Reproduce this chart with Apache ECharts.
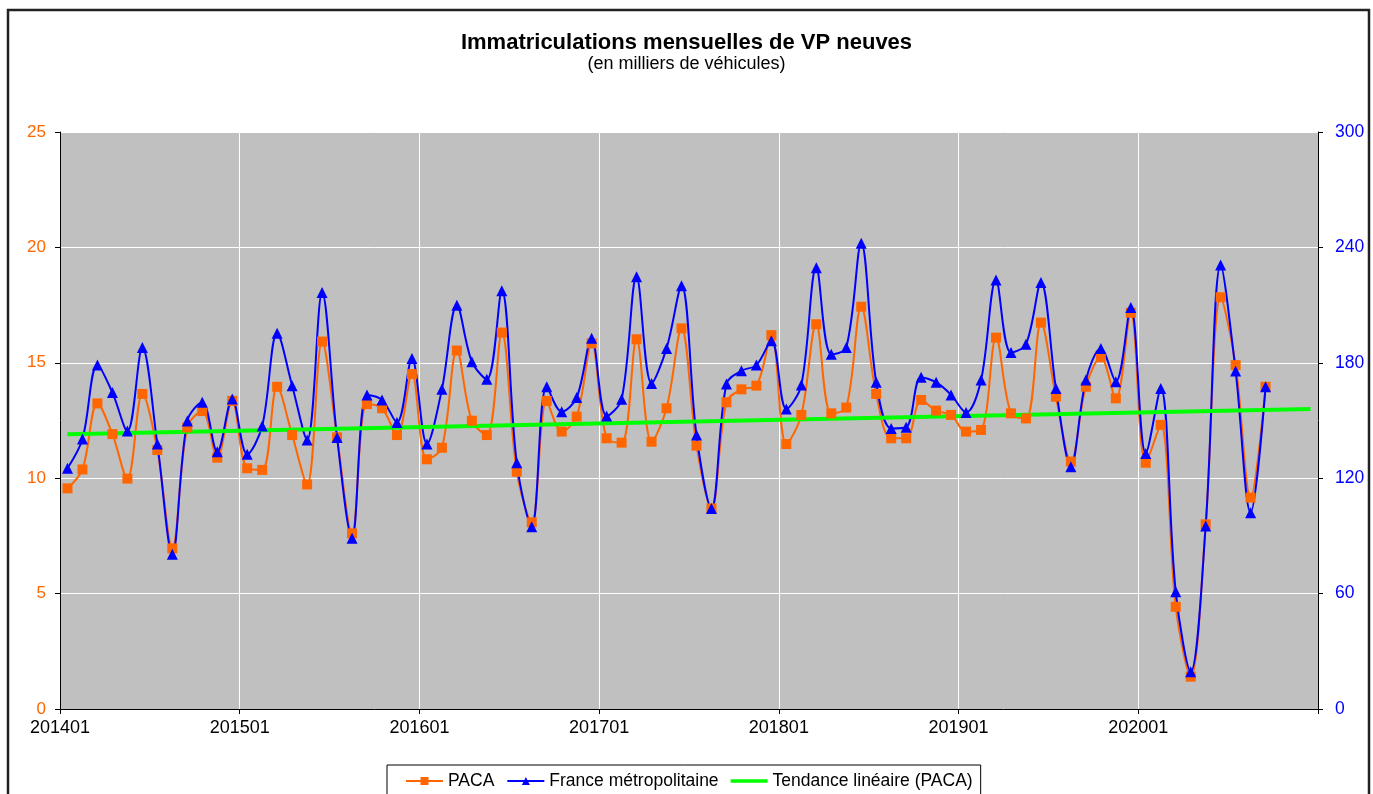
<!DOCTYPE html>
<html><head><meta charset="utf-8">
<script src="https://cdn.jsdelivr.net/npm/echarts@6/dist/echarts.min.js"></script>
<style>html,body{margin:0;padding:0;background:#fff}#c{width:1373px;height:794px}</style>
</head><body><div id="c"></div>
<script>
// Month labels (201401 .. 202009)
const months = [];
for (let y = 2014; y <= 2020; y++) {
  for (let m = 1; m <= 12; m++) {
    if (y === 2020 && m > 9) break;
    months.push(String(y) + (m < 10 ? '0' + m : String(m)));
  }
}
const xTickLabels = ['201401','201501','201601','201701','201801','201901','202001'];
const leftTicks = [0, 5, 10, 15, 20, 25];
const rightTicks = [0, 60, 120, 180, 240, 300];

// PACA (milliers) - left axis
const paca = [
  9.56,10.38,13.24,11.91,9.98,13.65,11.22,6.96,12.2,12.91,10.89,13.35,
  10.43,10.36,13.96,11.87,9.73,15.92,11.77,7.61,13.21,13.03,11.87,14.51,
  10.82,11.32,15.53,12.49,11.87,16.31,10.28,8.09,13.35,12.02,12.67,15.84,
  11.73,11.54,16.02,11.58,13.03,16.49,11.41,8.69,13.29,13.85,14.01,16.20,
  11.48,12.74,16.67,12.81,13.06,17.43,13.65,11.73,11.73,13.39,12.93,12.74,
  12.02,12.09,16.09,12.81,12.59,16.74,13.53,10.72,13.96,15.24,13.46,17.17,
  10.67,12.31,4.43,1.40,8.00,17.84,14.90,9.16,13.96
];
// France métropolitaine (milliers) - right axis
const france = [
  125.2,140.4,178.9,164.5,144.5,187.9,137.8,80.4,149.7,159.5,133.8,161.2,
  132.4,147.1,195.3,168.1,139.9,216.5,141.2,88.8,163.3,160.7,149.0,182.3,
  137.8,166.2,209.9,180.6,171.4,217.5,128.0,94.8,167.6,154.6,161.9,192.7,
  152.3,161.0,224.8,169.3,187.5,220.1,142.5,104.3,169.0,175.9,178.8,191.5,
  156.0,168.5,229.4,184.4,187.9,242.1,169.9,145.9,146.5,172.5,169.9,163.3,
  154.2,171.0,223.0,185.3,189.6,221.8,166.7,126.0,171.0,187.5,170.2,208.8,
  132.9,166.7,61.0,19.4,95.2,230.9,175.7,102.1,167.6
];
// Linear trend (PACA) endpoints
const trendMonths = ['201401', '202012'];
const trendValues = [11.90, 13.00];

function monthPos(label) {
  const y = parseInt(label.slice(0, 4), 10), m = parseInt(label.slice(4), 10);
  return (y - 2014) * 12 + (m - 1) + 0.5;
}
const pacaData = months.map((mo, i) => [monthPos(mo), paca[i]]);
const franceData = months.map((mo, i) => [monthPos(mo), france[i]]);
const trendData = trendMonths.map((mo, i) => [monthPos(mo), trendValues[i]]);

const FONT = "'Liberation Sans', Arial, sans-serif";
const ORANGE = '#FF6600', BLUE = '#0000FF', GREEN = '#00FF00';

const chart = echarts.init(document.getElementById('c'), null, {renderer: 'canvas'});
chart.setOption({
  animation: false,
  backgroundColor: '#fff',
  textStyle: {fontFamily: FONT},
  graphic: [{
    type: 'rect', z: 100,
    shape: {x: 8, y: 10, width: 1361, height: 800},
    style: {fill: 'none', stroke: '#222', lineWidth: 2.5}
  }],
  title: [{
    text: 'Immatriculations mensuelles de VP neuves',
    left: 'center', top: 27,
    textStyle: {fontFamily: FONT, fontSize: 22, fontWeight: 'bold', color: '#000'}
  }, {
    text: '(en milliers de véhicules)',
    left: 'center', top: 50,
    textStyle: {fontFamily: FONT, fontSize: 18, fontWeight: 'normal', color: '#000'}
  }],
  legend: {
    top: 765, left: 387,
    padding: [7, 8, 10, 18],
    borderColor: '#000', borderWidth: 1,
    itemWidth: 37, itemHeight: 10, itemGap: 12,
    textStyle: {fontFamily: FONT, fontSize: 17.5, color: '#000'},
    data: ['PACA', 'France métropolitaine',
      {name: 'Tendance linéaire (PACA)', icon: 'path://M0,0 L40,0 L40,4 L0,4 Z'}]
  },
  grid: {
    left: 60, right: 55, top: 132, bottom: 85,
    show: true, backgroundColor: '#C0C0C0', borderWidth: 0
  },
  xAxis: {
    type: 'value', min: 0, max: 84, interval: 12,
    axisLine: {show: true, lineStyle: {color: '#000', width: 1}},
    axisTick: {show: true, length: 5, lineStyle: {color: '#000'}},
    axisLabel: {
      color: '#000', fontSize: 18, fontFamily: FONT, margin: 10,
      formatter: v => (v % 12 === 0 && xTickLabels[v / 12]) ? xTickLabels[v / 12] : ''
    },
    splitLine: {show: true, lineStyle: {color: '#fff', width: 1}}
  },
  yAxis: [{
    type: 'value', min: leftTicks[0], max: leftTicks[leftTicks.length - 1], interval: 5,
    position: 'left',
    axisLine: {show: true, lineStyle: {color: '#000'}},
    axisTick: {show: true, length: 5, lineStyle: {color: '#000'}},
    axisLabel: {color: ORANGE, fontSize: 17, fontFamily: FONT, margin: 14},
    splitLine: {show: true, lineStyle: {color: '#fff', width: 1}}
  }, {
    type: 'value', min: rightTicks[0], max: rightTicks[rightTicks.length - 1], interval: 60,
    position: 'right',
    axisLine: {show: true, lineStyle: {color: '#000'}},
    axisTick: {show: true, length: 5, lineStyle: {color: '#000'}},
    axisLabel: {color: BLUE, fontSize: 17.5, fontFamily: FONT, margin: 17},
    splitLine: {show: false}
  }],
  series: [{
    name: 'PACA', type: 'line', yAxisIndex: 0, data: pacaData,
    smooth: 0.35, symbol: 'rect', symbolSize: 10,
    lineStyle: {color: ORANGE, width: 2}, itemStyle: {color: ORANGE}
  }, {
    name: 'France métropolitaine', type: 'line', yAxisIndex: 1, data: franceData,
    smooth: 0.35, symbol: 'triangle', symbolSize: 11,
    lineStyle: {color: BLUE, width: 2}, itemStyle: {color: BLUE}
  }, {
    name: 'Tendance linéaire (PACA)', type: 'line', yAxisIndex: 0, data: trendData,
    symbol: 'none', lineStyle: {color: GREEN, width: 4}, itemStyle: {color: GREEN}
  }]
});
</script></body></html>
